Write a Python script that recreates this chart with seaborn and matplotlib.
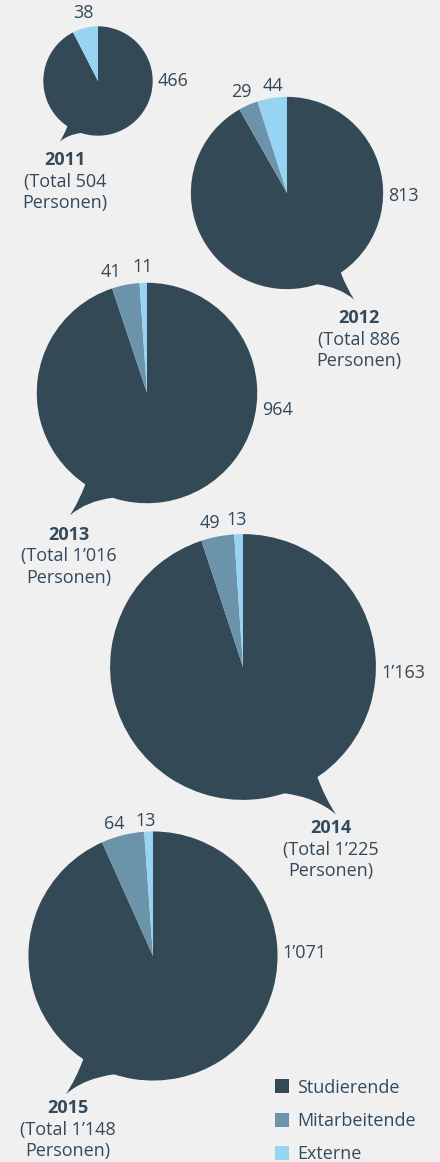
import matplotlib
matplotlib.use("Agg")
import matplotlib.pyplot as plt
from matplotlib.path import Path
from matplotlib.patches import PathPatch, Patch
import seaborn as sns

# ---------------- data ----------------
years = ["2011", "2012", "2013", "2014", "2015"]
categories = ["Studierende", "Mitarbeitende", "Externe"]
studierende = [466, 813, 964, 1163, 1071]
mitarbeitende = [0, 29, 41, 49, 64]
externe = [38, 44, 11, 13, 13]
totals = [504, 886, 1016, 1225, 1148]

# ---------------- style ----------------
BG = "#f0f0f0"
DARK = "#334955"
MID = "#6b93aa"
LIGHT = "#97d3f2"
TEXT = "#34495a"
palette = sns.color_palette([DARK, MID, LIGHT])

sns.set_theme(style="white", rc={"axes.facecolor": BG, "figure.facecolor": BG})
plt.rcParams["font.family"] = ["Open Sans", "DejaVu Sans"]

W, H = 440, 1162
fig = plt.figure(figsize=(W / 100, H / 100), dpi=100)
ax = fig.add_axes([0, 0, 1, 1])

# ---------------- layout (pixel coordinates, y downward) ----------------
centers = [(98, 81), (287, 193), (147, 393), (243, 667), (153, 956)]
tail_side = [-1, 1, -1, 1, -1]
scale = 0.1085  # px radius per person
big_dy = [0, 3, 17, 6, -3]
mit_pos = [None, (241, 92), (111, 272), (210, 523), (114, 824)]
ext_pos = [(83, 13), (273, 86), (143, 267), (237, 520), (146, 821)]
year_pos = [(65, 160), (359, 318), (69, 535), (331, 828), (68, 1108)]
LINE = 21.5
FS = 13


def fmt(v):
    return f"{v:,}".replace(",", "\u2019")


def Y(y):
    return H - y


for i, yr in enumerate(years):
    cx, cy = centers[i]
    r = totals[i] * scale
    s = tail_side[i]
    # speech bubble tail
    pts = [(0.35, -0.55), (0.56, -0.83), (0.62, -0.99), (0.70, -1.11),
           (0.55, -0.98), (0.31, -0.95), (0.35, -0.55)]
    codes = [Path.MOVETO, Path.LINETO, Path.CURVE3, Path.CURVE3,
             Path.CURVE3, Path.CURVE3, Path.CLOSEPOLY]
    verts = [(cx + s * px * r, Y(cy) + py * r) for px, py in pts]
    ax.add_patch(PathPatch(Path(verts, codes), facecolor=DARK,
                           edgecolor="none", zorder=0.5))
    vals = [studierende[i], mitarbeitende[i], externe[i]]
    ax.pie(vals, colors=palette, startangle=90, counterclock=False,
           center=(cx, Y(cy)), radius=r, frame=True,
           wedgeprops=dict(linewidth=0, antialiased=True))
    # value labels
    ax.text(cx + r + 5, Y(cy + big_dy[i]), fmt(studierende[i]), ha="left",
            va="center", fontsize=FS, color=TEXT)
    if mitarbeitende[i] > 0 and mit_pos[i] is not None:
        mx, my = mit_pos[i]
        ax.text(mx, Y(my), fmt(mitarbeitende[i]), ha="center", va="center",
                fontsize=FS, color=TEXT)
    ex, ey = ext_pos[i]
    ax.text(ex, Y(ey), fmt(externe[i]), ha="center", va="center",
            fontsize=FS, color=TEXT)
    # year label
    yx, yy = year_pos[i]
    ax.text(yx, Y(yy), yr, ha="center", va="center", fontsize=FS,
            fontweight="bold", color=TEXT)
    ax.text(yx, Y(yy + LINE), f"(Total {fmt(totals[i])}", ha="center",
            va="center", fontsize=FS, color=TEXT)
    ax.text(yx, Y(yy + 2 * LINE), "Personen)", ha="center", va="center",
            fontsize=FS, color=TEXT)

ax.set_xlim(0, W)
ax.set_ylim(0, H)
ax.set_aspect("auto")
ax.set_axis_off()

handles = [Patch(facecolor=c, edgecolor="none") for c in palette]
fig.legend(handles, categories, loc="upper left",
           bbox_to_anchor=(262 / W, 1 - 1066 / H), frameon=False,
           fontsize=FS, handlelength=0.8, handleheight=0.8,
           handletextpad=0.45, labelspacing=0.85, labelcolor=TEXT,
           borderaxespad=0.3)

fig.savefig("out.png", dpi=100, facecolor=BG)
